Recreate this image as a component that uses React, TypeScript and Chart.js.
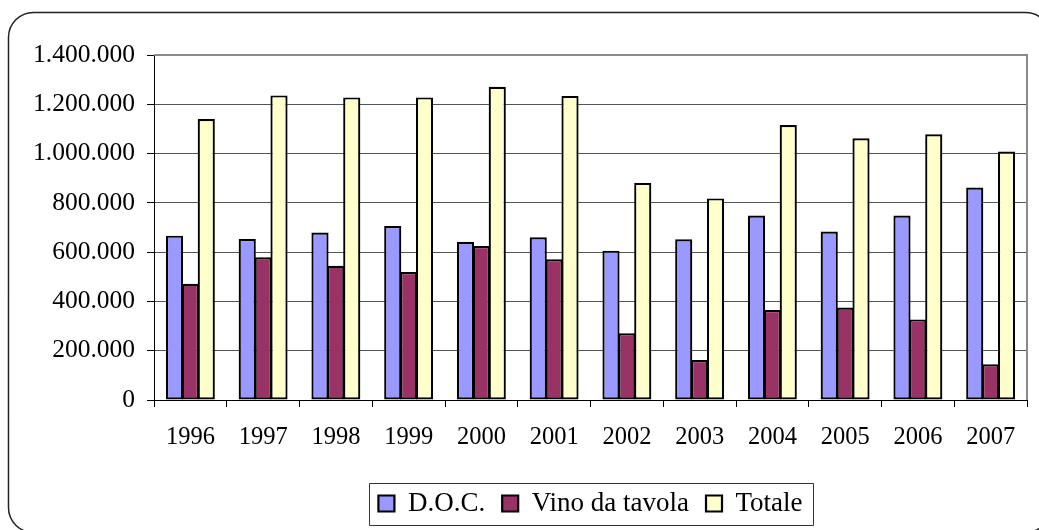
import React, { useEffect, useRef } from 'react';
import { Chart, registerables } from 'chart.js';

Chart.register(...registerables);

const years = ['1996', '1997', '1998', '1999', '2000', '2001', '2002', '2003', '2004', '2005', '2006', '2007'];
const docValues = [667000, 653000, 680000, 706000, 642000, 660000, 606000, 652000, 749000, 684000, 749000, 862000];
const vinoValues = [472000, 579000, 545000, 519000, 625000, 571000, 271000, 162000, 365000, 375000, 327000, 145000];
const totaleValues = [1140000, 1236000, 1228000, 1228000, 1271000, 1234000, 881000, 818000, 1116000, 1062000, 1078000, 1008000];
const yTickValues = [0, 200000, 400000, 600000, 800000, 1000000, 1200000, 1400000];

const SERIF = "'Liberation Serif', 'Times New Roman', serif";

const formatIt = (v: number) => String(Math.round(v)).replace(/\B(?=(\d{3})+(?!\d))/g, '.');

const barStyle = {
  borderColor: '#000000',
  borderWidth: 2.2,
  borderSkipped: false,
  barPercentage: 1.08,
  categoryPercentage: 0.655,
};

const decorPlugin = {
  id: 'decor',
  beforeDraw(chart: any) {
    const ctx = chart.ctx;
    ctx.save();
    ctx.fillStyle = '#ffffff';
    ctx.fillRect(0, 0, chart.width, chart.height);
    ctx.beginPath();
    ctx.roundRect(8.5, 12.5, 1042, 520, 25);
    ctx.lineWidth = 1.5;
    ctx.strokeStyle = '#222222';
    ctx.stroke();
    ctx.restore();
  },
  beforeDatasetsDraw(chart: any) {
    const ctx = chart.ctx;
    const { left, right, top, bottom } = chart.chartArea;
    ctx.save();
    ctx.beginPath();
    ctx.moveTo(left, top);
    ctx.lineTo(right, top);
    ctx.lineTo(right, bottom);
    ctx.lineWidth = 2;
    ctx.strokeStyle = '#8a8a8a';
    ctx.stroke();
    ctx.restore();
  },
  afterDraw(chart: any) {
    const lg = chart.legend;
    if (!lg || !lg.legendHitBoxes || !lg.legendHitBoxes.length) return;
    const boxes = lg.legendHitBoxes;
    const first = boxes[0];
    const last = boxes[boxes.length - 1];
    const x0 = first.left - 9;
    const x1 = last.left + last.width + 11;
    const cy = first.top + first.height / 2;
    const ctx = chart.ctx;
    ctx.save();
    ctx.beginPath();
    ctx.rect(Math.round(x0) + 0.5, Math.round(cy - 21) + 0.5, Math.round(x1 - x0), 42);
    ctx.lineWidth = 1;
    ctx.strokeStyle = '#333333';
    ctx.stroke();
    ctx.restore();
  },
};

export default function App() {
  const ref = useRef<HTMLCanvasElement | null>(null);

  useEffect(() => {
    if (!ref.current) return;
    const chart = new Chart(ref.current, {
      type: 'bar',
      data: {
        labels: years,
        datasets: [
          { label: 'D.O.C.', data: docValues, backgroundColor: '#9999FF', ...barStyle },
          { label: 'Vino da tavola', data: vinoValues, backgroundColor: '#993366', ...barStyle },
          { label: 'Totale', data: totaleValues, backgroundColor: '#FFFFCC', ...barStyle },
        ],
      },
      options: {
        responsive: false,
        animation: false,
        devicePixelRatio: 1,
        layout: { padding: { left: 0, right: 12, top: 55, bottom: 3 } },
        plugins: {
          tooltip: { enabled: false },
          legend: {
            position: 'bottom',
            fullSize: false,
            labels: {
              color: '#000000',
              font: { family: SERIF, size: 27 },
              boxWidth: 16,
              boxHeight: 16,
              padding: 17,
            },
          },
        },
        scales: {
          x: {
            grid: { drawOnChartArea: false, drawTicks: true, tickLength: 7, color: '#000000', offset: true },
            border: { color: '#000000', width: 1 },
            ticks: { color: '#000000', font: { family: SERIF, size: 24.5 }, padding: 16, maxRotation: 0 },
            afterFit: (s: any) => { s.height = 73; },
          },
          y: {
            min: 0,
            max: 1400000,
            afterBuildTicks: (s: any) => { s.ticks = yTickValues.map((v) => ({ value: v })); },
            grid: { color: '#555555', lineWidth: 1, tickLength: 7, tickColor: '#000000' },
            border: { color: '#000000', width: 1 },
            ticks: {
              color: '#000000',
              font: { family: SERIF, size: 25.5 },
              padding: 12,
              callback: (v: any) => formatIt(Number(v)),
            },
            afterFit: (s: any) => { s.width = 154; },
          },
        },
      },
      plugins: [decorPlugin],
    });
    return () => chart.destroy();
  }, []);

  return (
    <div style={{ position: 'absolute', left: 0, top: 0, width: 1039, height: 530, background: '#fff' }}>
      <canvas ref={ref} width={1039} height={530} style={{ width: 1039, height: 530, display: 'block' }} />
    </div>
  );
}
